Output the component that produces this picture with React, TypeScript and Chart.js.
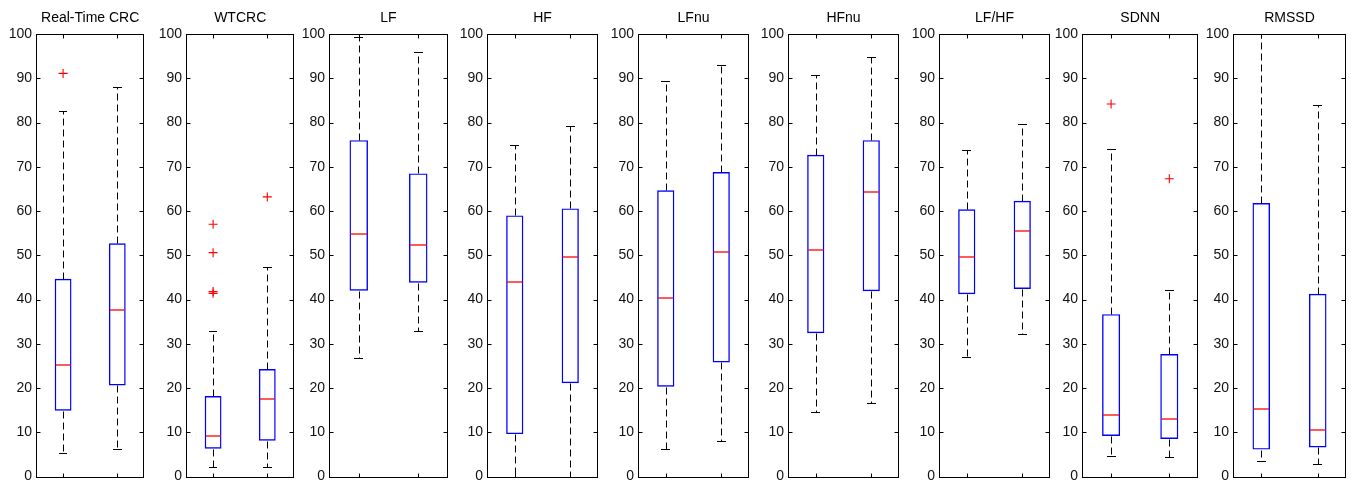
import React, { useEffect, useRef } from "react";
import { Chart, registerables } from "chart.js";

Chart.register(...registerables);

const panelTitles = ["Real-Time CRC", "WTCRC", "LF", "HF", "LFnu", "HFnu", "LF/HF", "SDNN", "RMSSD"];
const groupLabels = ["1", "2"];

const whiskerLow = [[5.4, 6.3], [2.2, 2.2], [26.8, 32.9], [0, 0], [6.3, 8.0], [14.5, 16.6], [27.1, 32.2], [4.7, 4.5], [3.6, 2.8]];
const quartile1 = [[14.9, 20.6], [6.3, 8.1], [42.0, 43.8], [9.6, 21.1], [20.3, 25.8], [32.4, 41.9], [41.2, 42.4], [9.2, 8.5], [6.1, 6.6]];
const medians = [[25.2, 37.7], [9.2, 17.5], [54.9, 52.3], [43.9, 49.7], [40.4, 50.8], [51.3, 64.4], [49.6, 55.5], [13.9, 13.1], [15.2, 10.5]];
const quartile3 = [[44.7, 52.7], [18.2, 24.3], [76.0, 68.5], [59.0, 60.6], [64.7, 68.8], [72.7, 76.0], [60.4, 62.3], [36.7, 27.7], [61.8, 41.3]];
const whiskerHigh = [[82.7, 88.0], [33.0, 47.3], [99.4, 95.9], [75.0, 79.2], [89.4, 93.1], [90.7, 94.7], [73.7, 79.7], [74.0, 42.2], [100, 83.9]];
const outliers = [
  [[91.1], []],
  [[57.0, 50.6, 41.8, 41.4], [63.2]],
  [[], []],
  [[], []],
  [[], []],
  [[], []],
  [[], []],
  [[84.2], [67.3]],
  [[], []],
];
const yMin = 0;
const yMax = 100;
const yStep = 10;

// layout (pixels)
const plotLeft = [36, 186, 329, 487, 638, 788, 939, 1082, 1233];
const plotRight = [147, 297, 448, 598, 749, 899, 1050, 1201, 1346];
const AXIS_W = 36;
const RIGHT_PAD = 3;
const H = 489;
const FONT = '"Liberation Sans", Arial, Helvetica, sans-serif';

const boxExtras = {
  id: "boxExtras",
  afterDatasetsDraw(chart: any, _args: any, opts: any) {
    const i = opts.panel;
    const { ctx, chartArea } = chart;
    const { left, right, top, bottom } = chartArea;
    const x = chart.scales.x;
    const y = chart.scales.y;
    const meta = chart.getDatasetMeta(0);
    ctx.save();
    for (let j = 0; j < groupLabels.length; j++) {
      const bar: any = meta.data[j];
      const half = bar.width / 2;
      const cx = x.getPixelForValue(j);
      const px = Math.round(cx) + 0.5;
      const yy = (v: number) => Math.round(y.getPixelForValue(v)) + 0.5;
      // whiskers
      ctx.strokeStyle = "#000";
      ctx.lineWidth = 1;
      ctx.setLineDash([7, 4]);
      ctx.beginPath();
      ctx.moveTo(px, yy(quartile3[i][j]));
      ctx.lineTo(px, yy(whiskerHigh[i][j]));
      ctx.moveTo(px, yy(quartile1[i][j]));
      ctx.lineTo(px, yy(whiskerLow[i][j]));
      ctx.stroke();
      ctx.setLineDash([]);
      // caps
      ctx.beginPath();
      ctx.moveTo(Math.round(cx - half / 2), yy(whiskerHigh[i][j]));
      ctx.lineTo(Math.round(cx + half / 2), yy(whiskerHigh[i][j]));
      ctx.moveTo(Math.round(cx - half / 2), yy(whiskerLow[i][j]));
      ctx.lineTo(Math.round(cx + half / 2), yy(whiskerLow[i][j]));
      ctx.stroke();
      // median
      ctx.strokeStyle = "#ff0000";
      ctx.lineWidth = 1.3;
      const my = Math.round(y.getPixelForValue(medians[i][j]));
      ctx.beginPath();
      ctx.moveTo(cx - half + 1, my);
      ctx.lineTo(cx + half - 1, my);
      ctx.stroke();
    }
    // frame
    ctx.strokeStyle = "#000";
    ctx.lineWidth = 1;
    const L = Math.round(left) + 0.5;
    const R = Math.round(right) - 0.5;
    const T = Math.round(top) + 0.5;
    const B = Math.round(bottom) + 0.5;
    ctx.strokeRect(L, T, R - L, B - T);
    // ticks
    ctx.beginPath();
    for (let v = yMin; v <= yMax; v += yStep) {
      const py = Math.round(y.getPixelForValue(v)) + 0.5;
      ctx.moveTo(L, py);
      ctx.lineTo(L + 4, py);
      ctx.moveTo(R, py);
      ctx.lineTo(R - 4, py);
    }
    for (let j = 0; j < groupLabels.length; j++) {
      const px = Math.round(x.getPixelForValue(j)) + 0.5;
      ctx.moveTo(px, B);
      ctx.lineTo(px, B - 4);
      ctx.moveTo(px, T);
      ctx.lineTo(px, T + 4);
    }
    ctx.stroke();
    // title
    ctx.fillStyle = "#000";
    ctx.font = `14px ${FONT}`;
    ctx.textAlign = "center";
    ctx.textBaseline = "middle";
    ctx.fillText(panelTitles[i], (left + right) / 2, 18);
    ctx.restore();
  },
};

function Panel({ i }: { i: number }) {
  const ref = useRef<HTMLCanvasElement | null>(null);
  const width = plotRight[i] - plotLeft[i] + AXIS_W + RIGHT_PAD;
  useEffect(() => {
    if (!ref.current) return;
    const outlierPoints: any[] = [];
    groupLabels.forEach((g, j) => {
      outlierPoints.push(...outliers[i][j].map((v) => ({ x: g, y: v })));
    });
    const chart = new Chart(ref.current, {
      type: "bar",
      data: {
        labels: groupLabels,
        datasets: [
          {
            type: "bar",
            data: groupLabels.map((_, j) => [quartile1[i][j], quartile3[i][j]]),
            backgroundColor: "rgba(0,0,0,0)",
            borderColor: "#0000ff",
            borderWidth: 1.4,
            borderSkipped: false,
            barPercentage: 0.31,
            categoryPercentage: 1,
            order: 2,
          } as any,
          {
            type: "line",
            data: outlierPoints,
            showLine: false,
            pointStyle: "cross",
            pointRadius: 4.5,
            pointBorderColor: "#ff0000",
            pointBorderWidth: 1.1,
            borderColor: "#ff0000",
            backgroundColor: "#ff0000",
            order: 1,
          } as any,
        ],
      },
      options: {
        responsive: false,
        animation: false,
        devicePixelRatio: 1,
        layout: { padding: { top: 34, bottom: H - 480, left: 0, right: RIGHT_PAD } },
        plugins: {
          legend: { display: false },
          tooltip: { enabled: false },
          title: { display: false },
          boxExtras: { panel: i },
        } as any,
        scales: {
          x: { display: false, offset: true },
          y: {
            min: yMin,
            max: yMax,
            ticks: { stepSize: yStep, font: { family: FONT, size: 14 }, color: "#111", padding: 4 },
            grid: { display: false, drawTicks: false, tickLength: 0 },
            border: { display: false },
            afterFit: (s: any) => {
              s.width = AXIS_W;
            },
          },
        },
      },
      plugins: [boxExtras],
    });
    return () => chart.destroy();
  }, [i]);
  return (
    <canvas
      ref={ref}
      width={width}
      height={H}
      style={{ position: "absolute", left: plotLeft[i] - AXIS_W, top: 0, width, height: H }}
    />
  );
}

export default function App() {
  return (
    <div style={{ position: "fixed", left: 0, top: 0, width: 1351, height: H, background: "#fff" }}>
      {panelTitles.map((_, i) => (
        <Panel key={i} i={i} />
      ))}
    </div>
  );
}
